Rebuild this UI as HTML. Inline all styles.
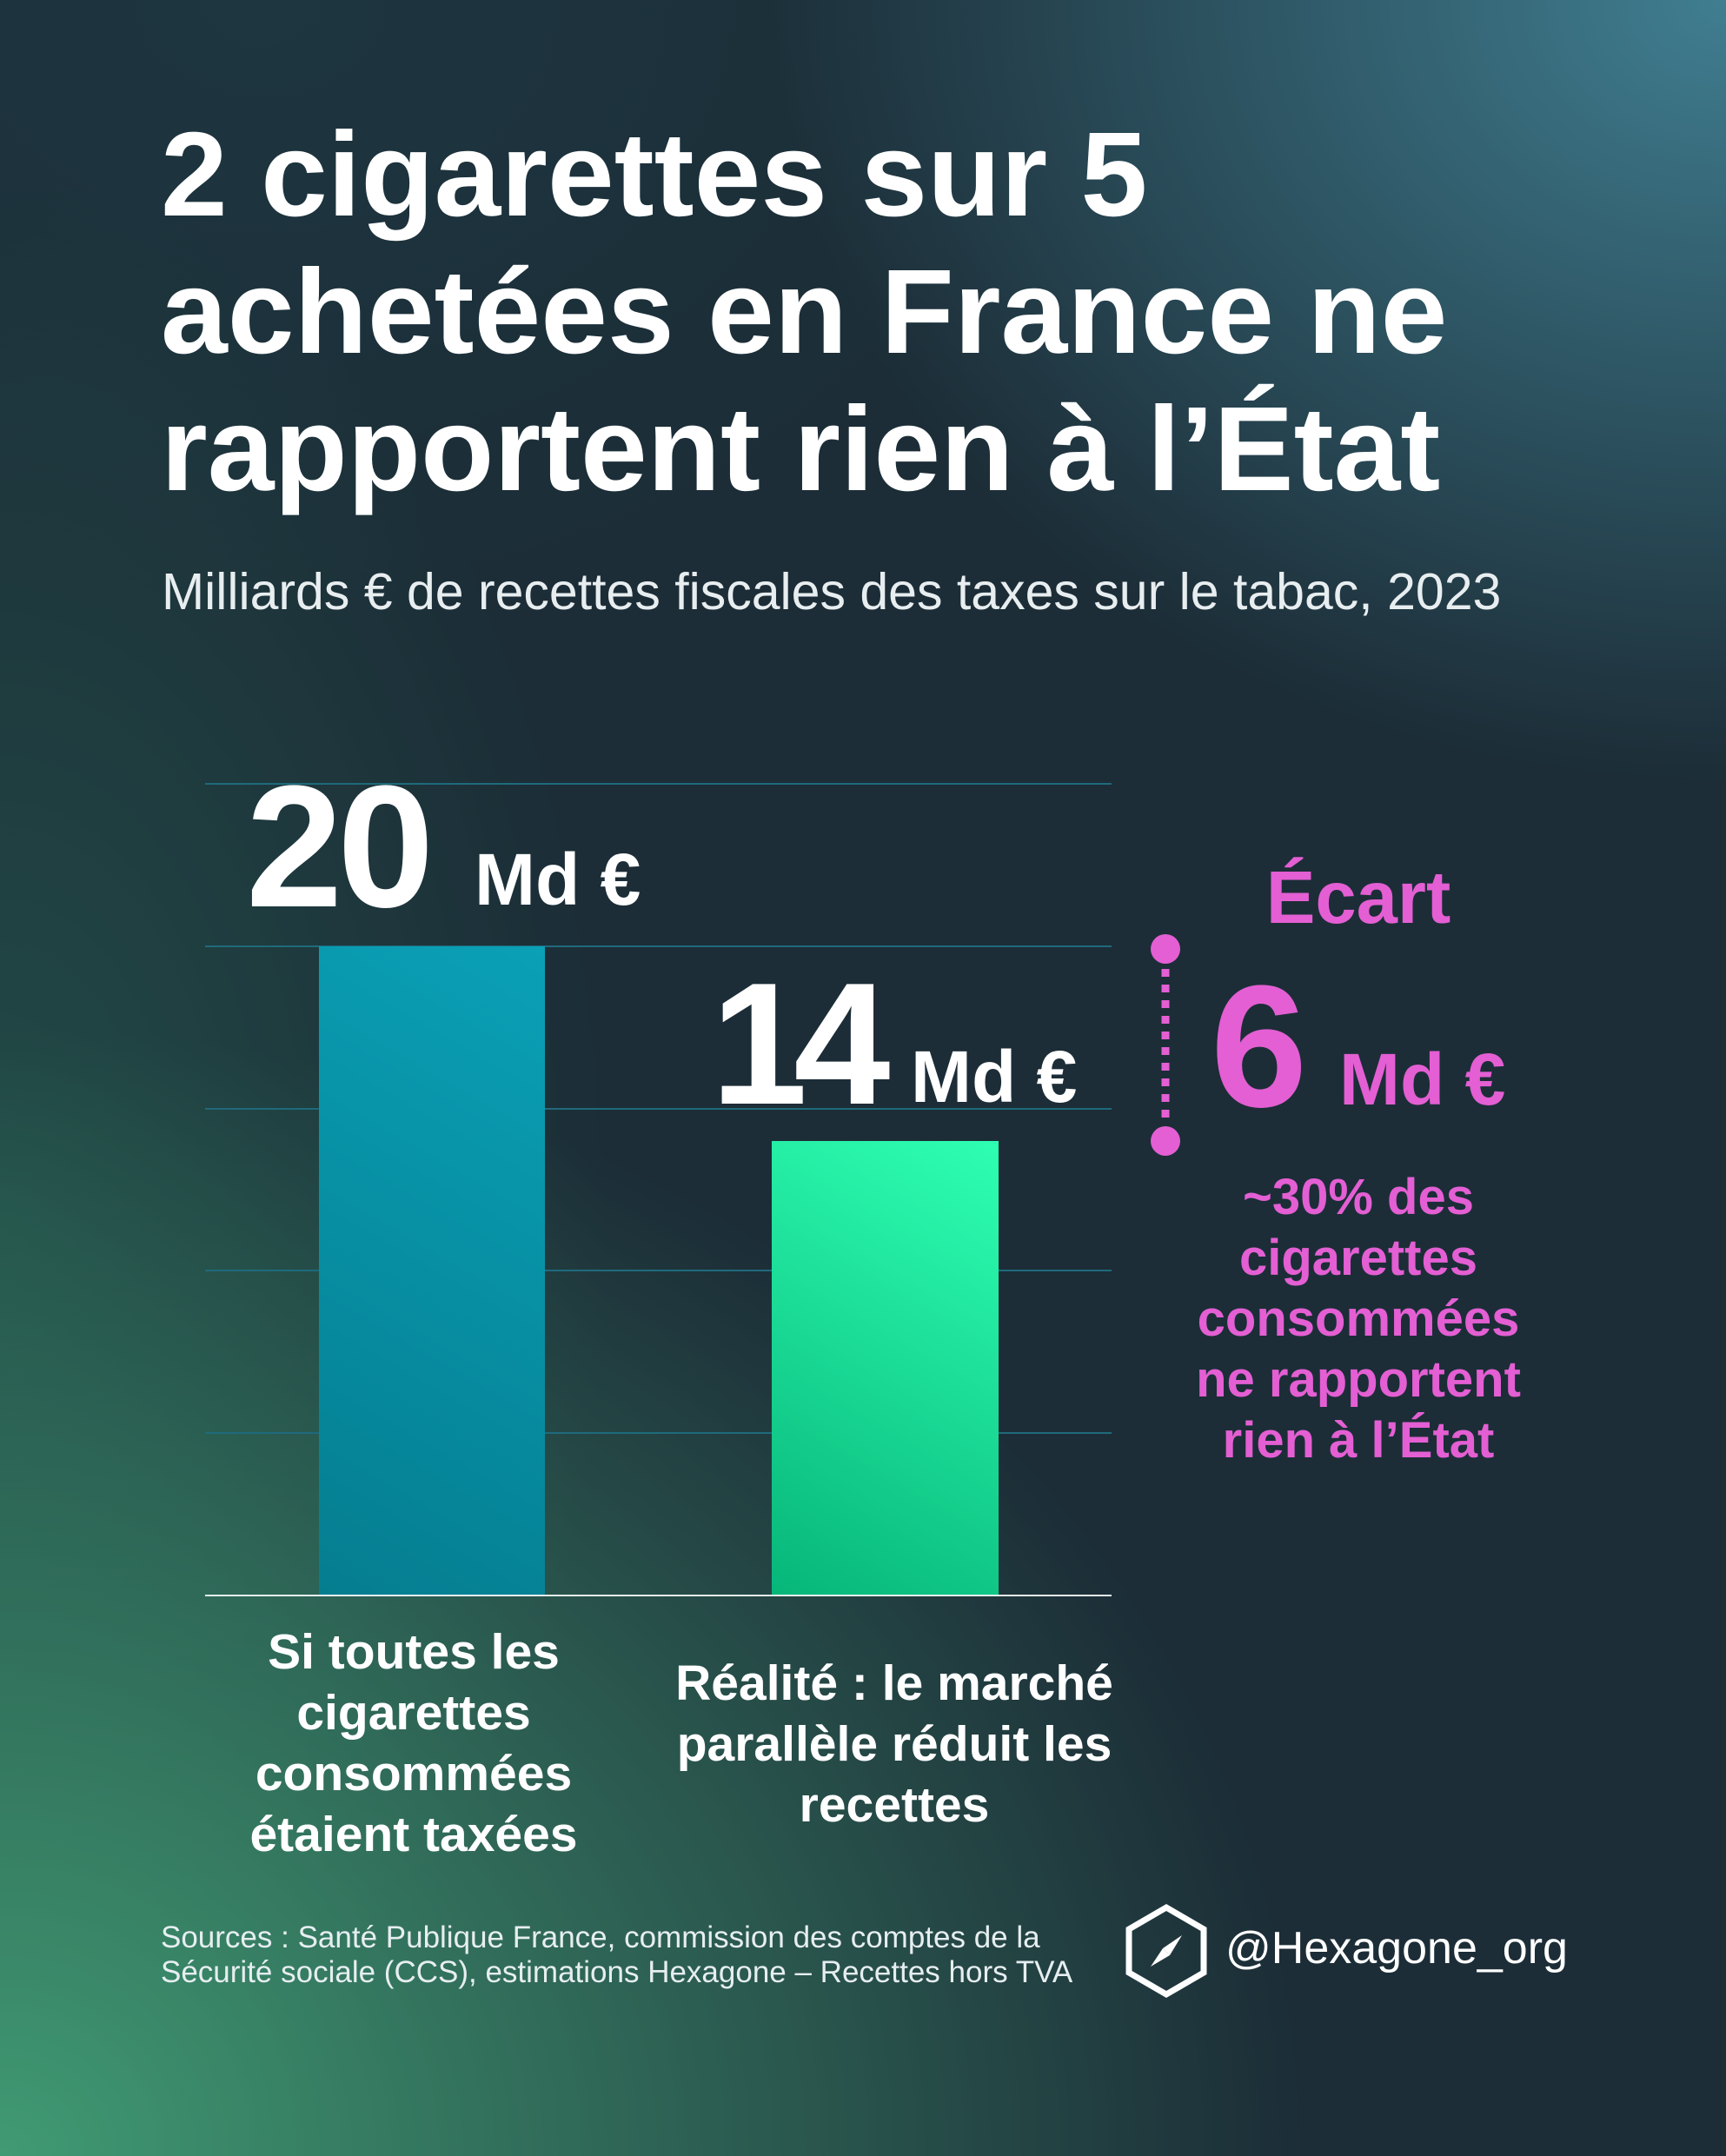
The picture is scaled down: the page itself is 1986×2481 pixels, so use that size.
<!DOCTYPE html>
<html><head><meta charset="utf-8"><style>
body{margin:0;width:1986px;height:2481px;overflow:hidden;font-family:"Liberation Sans",sans-serif;}
#bg{position:absolute;left:0;top:0;width:1986px;height:2481px;
background:
radial-gradient(ellipse 1100px 900px at 1986px 0px,rgba(70,140,160,0.85),rgba(70,140,160,0) 100%),
radial-gradient(ellipse 1500px 1300px at 0px 2481px,rgba(66,160,118,0.95),rgba(66,160,118,0) 100%),
radial-gradient(ellipse 700px 1200px at 0px 1400px,rgba(40,110,90,0.45),rgba(40,110,90,0) 100%),
radial-gradient(ellipse 900px 700px at 300px 0px,rgba(30,60,70,0.6),rgba(30,60,70,0) 100%),
#1c2d37;}
.t{position:absolute;color:#fff;font-weight:bold;white-space:nowrap;line-height:1;}
.g{position:absolute;left:236px;width:1043px;height:2px;background:#1f6a7c;}
.p{color:#e35fd3;}
.c{text-align:center;}
</style></head><body><div id="bg"></div>
<div class="t" style="left:185px;top:122px;font-size:138px;line-height:158px;letter-spacing:0px">2 cigarettes sur 5<br>achetées en France ne<br>rapportent rien à l’État</div>
<div class="t" style="left:186px;top:652px;font-size:59px;font-weight:normal;color:#e8eef0">Milliards € de recettes fiscales des taxes sur le tabac, 2023</div>
<div class="g" style="top:901px"></div>
<div class="g" style="top:1088px"></div>
<div class="g" style="top:1275px"></div>
<div class="g" style="top:1461px"></div>
<div class="g" style="top:1648px"></div>
<div style="position:absolute;left:367px;top:1089px;width:260px;height:747px;background:linear-gradient(30deg,#057d90,#0aa0b6)"></div>
<div style="position:absolute;left:888px;top:1313px;width:261px;height:523px;background:linear-gradient(30deg,#07b67a,#2effb2)"></div>
<div style="position:absolute;left:236px;top:1835px;width:1043px;height:2px;background:#e6eef0"></div>
<div class="t" style="left:283px;top:875px;font-size:200px;letter-spacing:-6px">20</div>
<div class="t" style="left:546px;top:970px;font-size:84px">Md €</div>
<div class="t" style="left:818px;top:1102px;font-size:200px;letter-spacing:-16px">14</div>
<div class="t" style="left:1048px;top:1197px;font-size:84px">Md €</div>
<div class="t p c" style="left:1363px;width:400px;top:991px;font-size:85px">Écart</div>
<div class="t p" style="left:1393px;top:1105px;font-size:200px">6</div>
<div class="t p" style="left:1541px;top:1200px;font-size:84px">Md €</div>
<svg style="position:absolute;left:1300px;top:1060px" width="80" height="270">
<circle cx="41" cy="32" r="17" fill="#e35fd3"/><circle cx="41" cy="253" r="17" fill="#e35fd3"/>
<line x1="41" y1="55" x2="41" y2="232" stroke="#e35fd3" stroke-width="9" stroke-dasharray="9 9"/></svg>
<div class="t p c" style="left:1313px;width:500px;top:1343px;font-size:58px;line-height:70px">~30% des<br>cigarettes<br>consommées<br>ne rapportent<br>rien à l’État</div>
<div class="t c" style="left:226px;width:500px;top:1866px;font-size:57px;line-height:70px">Si toutes les<br>cigarettes<br>consommées<br>étaient taxées</div>
<div class="t c" style="left:729px;width:600px;top:1902px;font-size:57px;line-height:70px">Réalité : le marché<br>parallèle réduit les<br>recettes</div>
<div class="t" style="left:185px;top:2210px;font-size:35px;line-height:40px;font-weight:normal;color:#e6eef0">Sources : Santé Publique France, commission des comptes de la<br>Sécurité sociale (CCS), estimations Hexagone – Recettes hors TVA</div>
<svg style="position:absolute;left:1290px;top:2190px" width="104" height="110">
<polygon points="52,5 95,30 95,80 52,105 9,80 9,30" fill="none" stroke="#fff" stroke-width="7"/>
<polygon points="70,37 56,60 48,52" fill="#fff"/><polygon points="34,73 48,52 56,60" fill="#fff"/></svg>
<div class="t" style="left:1410px;top:2216px;font-size:52px;font-weight:normal">@Hexagone_org</div>
</body></html>
